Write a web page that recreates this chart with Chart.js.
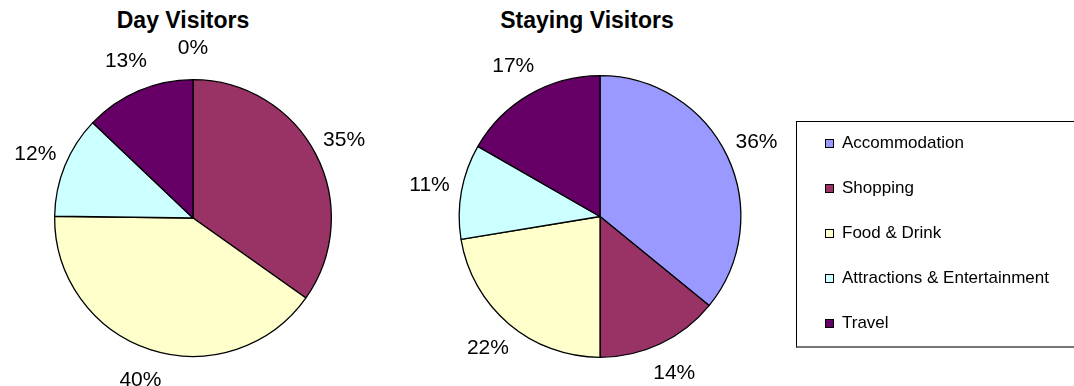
<!DOCTYPE html>
<html>
<head>
<meta charset="utf-8">
<script src="https://cdn.jsdelivr.net/npm/chart.js@4.4.1/dist/chart.umd.min.js"></script>
<style>
  body { margin: 0; background: #fff; font-family: "Liberation Sans", Arial, sans-serif; }
  #wrap { position: relative; width: 1074px; height: 386px; overflow: hidden; }
  .title { position: absolute; top: 6px; width: 240px; text-align: center; font-weight: bold; font-size: 23px; line-height: 28px; color: #000; }
  .pie { position: absolute; top: 0; }
  #legend { position: absolute; left: 796px; top: 121px; width: 300px; height: 224px;
    border: 1px solid #000; border-bottom: 2px solid #777; }
  .item { height: 45px; line-height: 45px; font-size: 17px; color: #000; padding-left: 28px; white-space: nowrap; }
  .item:first-child { margin-top: -2px; }
  .sw { display: inline-block; width: 7px; height: 7px; border: 1px solid #000; margin-right: 8px; vertical-align: 0px; }
</style>
</head>
<body>
<div id="wrap">
  <div class="title" style="left:63px">Day Visitors</div>
  <div class="title" style="left:467px">Staying Visitors</div>
  <div class="pie" style="left:0;width:386px;height:386px"><canvas id="dayChart"></canvas></div>
  <div class="pie" style="left:400px;width:400px;height:386px"><canvas id="stayChart"></canvas></div>
  <div id="legend"></div>
</div>
<script>
const categories = ['Accommodation', 'Shopping', 'Food & Drink', 'Attractions & Entertainment', 'Travel']
const dayVisitors = [0, 34.8, 40.4, 11.9, 12.9]
const stayingVisitors = [35.9, 14.1, 22.4, 10.9, 16.7]
const colours = ['#9999FF', '#993366', '#FFFFCC', '#CCFFFF', '#660066']

// percentage labels outside each slice, at the middle angle
const outsideLabels = {
    id: 'outsideLabels',
    afterDatasetsDraw(chart) {
        const c = chart.ctx
        const meta = chart.getDatasetMeta(0)
        const data = chart.data.datasets[0].data
        c.save()
        c.font = '21px "Liberation Sans", Arial, sans-serif'
        c.fillStyle = '#000'
        c.textAlign = 'center'
        c.textBaseline = 'middle'
        meta.data.forEach((arc, i) => {
            const mid = (arc.startAngle + arc.endAngle) / 2
            const r = arc.outerRadius * 1.23
            c.fillText(Math.round(data[i]) + '%', arc.x + Math.cos(mid) * r, arc.y + Math.sin(mid) * r)
        })
        c.restore()
    }
}

function makePie(id, values, pad) {
    return new Chart(document.getElementById(id), {
        type: 'pie',
        data: {
            labels: categories,
            datasets: [{
                data: values,
                backgroundColor: colours,
                borderColor: '#000',
                borderWidth: 1.3
            }]
        },
        options: {
            responsive: true,
            maintainAspectRatio: false,
            animation: false,
            layout: { padding: pad },
            plugins: {
                legend: { display: false },
                tooltip: { enabled: false }
            }
        },
        plugins: [outsideLabels]
    })
}

makePie('dayChart', dayVisitors, { top: 79, bottom: 29 })
makePie('stayChart', stayingVisitors, { top: 75, bottom: 28 })

const legend = document.getElementById('legend')
categories.forEach((name, i) => {
    const row = document.createElement('div')
    row.className = 'item'
    const sw = document.createElement('span')
    sw.className = 'sw'
    sw.style.backgroundColor = colours[i]
    row.appendChild(sw)
    row.appendChild(document.createTextNode(name))
    legend.appendChild(row)
})
</script>
</body>
</html>
